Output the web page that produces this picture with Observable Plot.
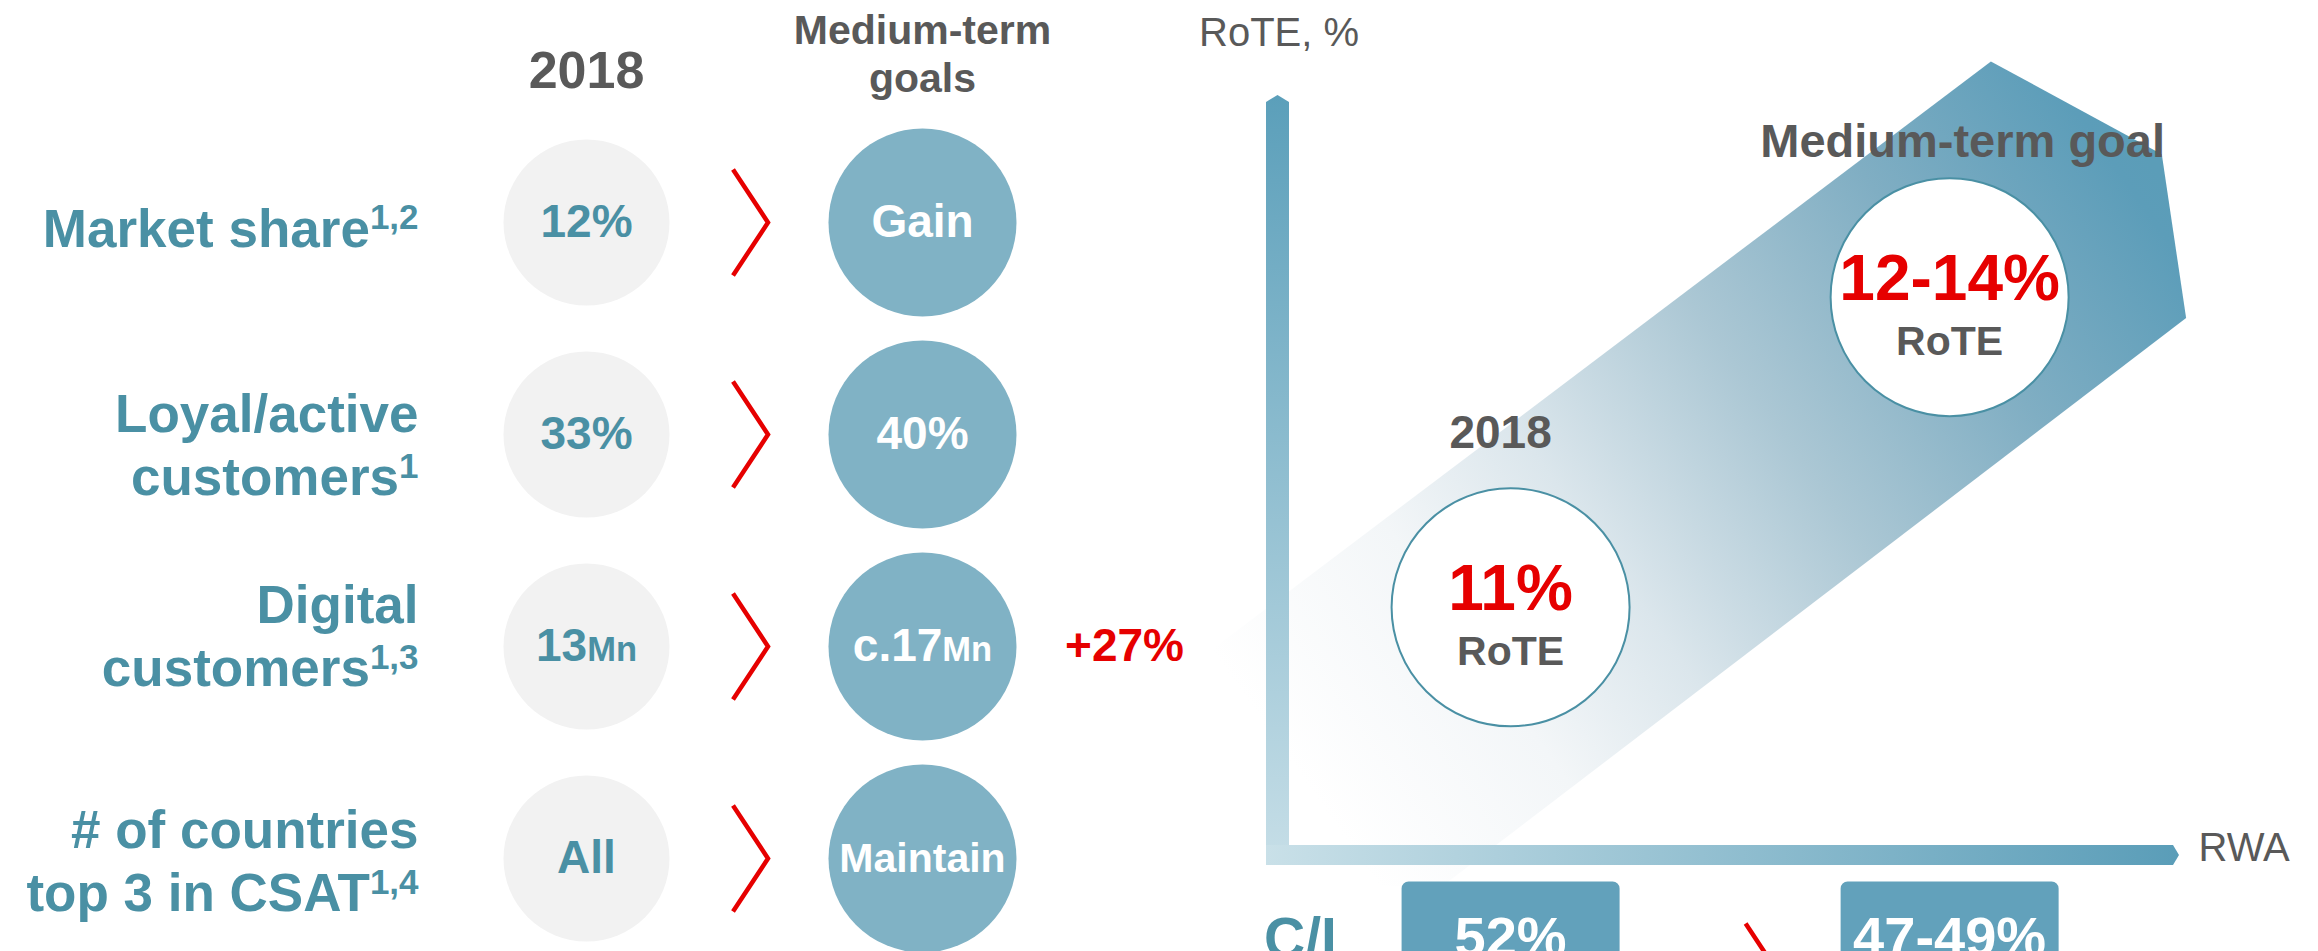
<!DOCTYPE html>
<html>
<head>
<meta charset="utf-8">
<script src="https://cdn.jsdelivr.net/npm/d3@7"></script>
<script src="https://cdn.jsdelivr.net/npm/@observablehq/plot@0.6"></script>
<style>
html, body { margin: 0; padding: 0; background: #fff; overflow: hidden; }
#wrap { display: flex; width: 2318px; height: 951px; overflow: hidden; background: #fff; }
#wrap svg { flex: none; display: block; }
</style>
</head>
<body>
<div id="wrap"></div>
<script>
// ---------------- data ----------------
// left table ("^" marks a superscript, "~" marks a smaller unit)
const rows = ["Market share^1,2", "Loyal/active\ncustomers^1", "Digital\ncustomers^1,3", "# of countries\ntop 3 in CSAT^1,4"];
const values2018 = ["12%", "33%", "13~Mn", "All"];
const goals = ["Gain", "40%", "c.17~Mn", "Maintain"];
const deltas = ["", "", "+27%", ""];
const columns = ["label", "2018", "arrow", "goal"];
const headerColumns = ["2018", "goal"];
const headers = ["2018", "Medium-term\ngoals"];

// right chart (conceptual RoTE vs RWA)
const stages = ["2018", "Medium-term goal"];
const rwa = [25.8, 74.5];          // relative position along RWA axis
const rote = [11, 13];             // RoTE % (goal: mid of 12-14%)
const roteLabels = ["11%", "12-14%"];
const metricLabel = "RoTE";
const ciLabel = "C/I";
const ciValues = ["52%", "47-49%"];
const xAxisLabel = "RWA";
const yAxisLabel = "RoTE, %";

// ---------------- styles ----------------
const FONT = "'Liberation Sans', Arial, Helvetica, sans-serif";
const TEAL = "#4a90a4";
const GREY = "#595959";
const RED = "#e60000";
const LIGHT = "#f2f2f2";
const BLUE = "#80b2c5";
const BOX = "#62a1bb";
const labelNudge = [4, 9, -12, 1]; // vertical fine-tuning of row labels (px)

const chevron = {
  draw(ctx, size) {
    const r = Math.sqrt(size / Math.PI);
    const w = r * 0.33;
    ctx.moveTo(-w, -r);
    ctx.lineTo(w, 0);
    ctx.lineTo(-w, r);
  }
};
const roundedBox = {
  draw(ctx, size) {
    const r = Math.sqrt(size / Math.PI);
    const hw = r, hh = r * 0.532, c = 7;
    ctx.moveTo(-hw + c, -hh);
    ctx.lineTo(hw - c, -hh);
    ctx.arcTo(hw, -hh, hw, -hh + c, c);
    ctx.lineTo(hw, hh - c);
    ctx.arcTo(hw, hh, hw - c, hh, c);
    ctx.lineTo(-hw + c, hh);
    ctx.arcTo(-hw, hh, -hw, hh - c, c);
    ctx.lineTo(-hw, -hh + c);
    ctx.arcTo(-hw, -hh, -hw + c, -hh, c);
    ctx.closePath();
  }
};

function richText(svg) {
  svg.querySelectorAll("text, tspan").forEach(el => {
    if (el.children.length) return;
    const s = el.textContent;
    const m = s.match(/^(.*?)([\^~])(.*)$/);
    if (!m) return;
    el.textContent = m[1];
    const t = document.createElementNS("http://www.w3.org/2000/svg", "tspan");
    if (m[2] === "^") {
      t.setAttribute("font-size", "0.66em");
      t.setAttribute("dy", "-0.5em");
    } else {
      t.setAttribute("font-size", "0.75em");
    }
    t.textContent = m[3];
    el.appendChild(t);
  });
}

// ---------------- left table ----------------
const rowData = rows.map((label, i) => ({label, v2018: values2018[i], goal: goals[i], delta: deltas[i]}));

const left = Plot.plot({
  width: 1200,
  height: 951,
  marginLeft: 417,
  marginRight: 277,
  marginTop: 221,
  marginBottom: 93,
  style: {fontFamily: FONT, background: "#fff"},
  x: {type: "point", domain: columns, padding: 0, axis: null},
  y: {type: "point", domain: rows, padding: 0, axis: null},
  marks: [
    Plot.text(headers.slice(0, 1), {
      x: (d, i) => headerColumns[i], frameAnchor: "top", text: d => d,
      lineAnchor: "bottom", dy: -134, fontSize: 52, fontWeight: "bold", fill: GREY
    }),
    Plot.text(headers.slice(1), {
      x: (d, i) => headerColumns[i + 1], frameAnchor: "top", text: d => d,
      lineAnchor: "bottom", dy: -130, lineHeight: 1.17, fontSize: 41, fontWeight: "bold", fill: GREY
    }),
    ...rowData.map((d, i) => Plot.text([d], {
      x: () => "label", y: "label", text: "label", textAnchor: "end", dy: labelNudge[i],
      lineHeight: 1.19, fontSize: 53, fontWeight: "bold", fill: TEAL
    })),
    Plot.dot(rowData, {x: () => "2018", y: "label", r: 83, fill: LIGHT, stroke: "none"}),
    Plot.text(rowData, {x: () => "2018", y: "label", text: "v2018", fontSize: 46, fontWeight: "bold", fill: TEAL}),
    Plot.dot(rowData, {x: () => "arrow", y: "label", dx: -4, symbol: chevron, r: 53, fill: "none", stroke: RED, strokeWidth: 4.5}),
    Plot.dot(rowData, {x: () => "goal", y: "label", r: 94, fill: BLUE, stroke: "none"}),
    Plot.text(rowData, {
      x: () => "goal", y: "label", text: "goal",
      fontSize: d => (d.goal.replace("~", "").length > 6 ? 41 : 46), fontWeight: "bold", fill: "#fff"
    }),
    Plot.text(rowData.filter(d => d.delta), {
      x: () => "goal", y: "label", text: "delta", dx: 202,
      fontSize: 46, fontWeight: "bold", fill: RED
    })
  ]
});
richText(left);

// ---------------- right chart ----------------
const stageData = stages.map((stage, i) => ({stage, rwa: rwa[i], rote: rote[i], roteLabel: roteLabels[i], ci: ciValues[i]}));
const X_DOMAIN = [0, 100];
const Y_DOMAIN = [9.4, 14.3];

function bandMark(index, scales) {
  const {x, y} = scales;
  const p0 = [x(rwa[0]), y(rote[0])];
  const p1 = [x(rwa[1]), y(rote[1])];
  const d = [p1[0] - p0[0], p1[1] - p0[1]];
  const L = Math.hypot(d[0], d[1]);
  const n = [d[1] / L, -d[0] / L];
  // band outline: [fraction along 2018->goal, offset across (px)]
  const shape = [[1.316, 168], [1.476, -6.4], [1.337, -154.3], [-0.403, -189], [-0.497, -153.3], [-0.527, 136.7]];
  const pts = shape.map(([a, b]) => [p0[0] + a * d[0] + b * n[0], p0[1] + a * d[1] + b * n[1]]);
  const g = d3.create("svg:g");
  const grad = g.append("defs").append("linearGradient")
    .attr("id", "bandGrad").attr("gradientUnits", "userSpaceOnUse")
    .attr("x1", p0[0] - 0.5 * d[0]).attr("y1", p0[1] - 0.5 * d[1])
    .attr("x2", p0[0] + 1.45 * d[0]).attr("y2", p0[1] + 1.45 * d[1]);
  [[0, "#ffffff"], [0.205, "#f3f6f8"], [0.36, "#dbe6ec"], [0.565, "#abc7d4"], [0.77, "#80aec3"], [0.97, "#5c9db9"], [1, "#5b9db8"]]
    .forEach(([o, c]) => grad.append("stop").attr("offset", o).attr("stop-color", c));
  g.append("path").attr("d", "M" + pts.map(p => p.join(",")).join("L") + "Z").attr("fill", "url(#bandGrad)");
  return g.node();
}

function axesMark(index, scales) {
  const {x, y} = scales;
  const x0 = x(X_DOMAIN[0]), x1 = x(X_DOMAIN[1]);
  const yb = y(Y_DOMAIN[0]), yt = y(Y_DOMAIN[1]);
  const hw = 11.5, hh = 10;
  const g = d3.create("svg:g");
  const defs = g.append("defs");
  const gy = defs.append("linearGradient").attr("id", "axisY").attr("gradientUnits", "userSpaceOnUse")
    .attr("x1", 0).attr("y1", yt).attr("x2", 0).attr("y2", yb + hh);
  gy.append("stop").attr("offset", 0).attr("stop-color", "#5b9fba");
  gy.append("stop").attr("offset", 1).attr("stop-color", "#c6dee7");
  const gx = defs.append("linearGradient").attr("id", "axisX").attr("gradientUnits", "userSpaceOnUse")
    .attr("x1", x0 - hw).attr("y1", 0).attr("x2", x1).attr("y2", 0);
  gx.append("stop").attr("offset", 0).attr("stop-color", "#c9e0e8");
  gx.append("stop").attr("offset", 1).attr("stop-color", "#5a9db8");
  g.append("path")
    .attr("d", `M${x0 - hw},${yb + hh}V${yt + 7}L${x0},${yt}L${x0 + hw},${yt + 7}V${yb + hh}Z`)
    .attr("fill", "url(#axisY)");
  g.append("path")
    .attr("d", `M${x0 - hw},${yb - hh}H${x1 - 6}L${x1},${yb}L${x1 - 6},${yb + hh}H${x0 - hw}Z`)
    .attr("fill", "url(#axisX)");
  return g.node();
}

const right = Plot.plot({
  width: 1118,
  height: 951,
  marginLeft: 77.5,
  marginRight: 139,
  marginTop: 95,
  marginBottom: 96,
  style: {fontFamily: FONT, background: "transparent", overflow: "visible"},
  x: {domain: X_DOMAIN, axis: null},
  y: {domain: Y_DOMAIN, axis: null},
  marks: [
    bandMark,
    axesMark,
    Plot.text([yAxisLabel], {frameAnchor: "top-left", lineAnchor: "middle", text: d => d, textAnchor: "start", dx: -79, dy: -62, fontSize: 40, fill: GREY}),
    Plot.text([xAxisLabel], {frameAnchor: "bottom-right", lineAnchor: "middle", text: d => d, textAnchor: "start", dx: 19, dy: -7, fontSize: 40, fill: GREY}),
    Plot.dot(stageData, {x: "rwa", y: "rote", r: 119, fill: "#fff", stroke: TEAL, strokeWidth: 2}),
    Plot.text(stageData, {x: "rwa", y: "rote", text: "roteLabel", dy: -18, fontSize: 64, fontWeight: "bold", fill: RED}),
    Plot.text(stageData, {x: "rwa", y: "rote", text: () => metricLabel, dy: 45, fontSize: 41, fontWeight: "bold", fill: GREY}),
    Plot.text(stageData.slice(0, 1), {x: "rwa", y: "rote", text: "stage", dx: -10, dy: -174, fontSize: 46, fontWeight: "bold", fill: GREY}),
    Plot.text(stageData.slice(1), {x: "rwa", y: "rote", text: "stage", dx: 13, dy: -155, fontSize: 47, fontWeight: "bold", fill: GREY}),
    Plot.text([ciLabel], {frameAnchor: "bottom-left", lineAnchor: "middle", text: d => d, textAnchor: "start", dx: -14, dy: 84, fontSize: 57, fontWeight: "bold", fill: TEAL}),
    Plot.dot(stageData, {x: "rwa", frameAnchor: "bottom", dy: 84, symbol: roundedBox, r: 109, fill: BOX, stroke: "none"}),
    Plot.text(stageData, {x: "rwa", frameAnchor: "bottom", lineAnchor: "middle", dy: 83, text: "ci", fontSize: 56, fontWeight: "bold", fill: "#fff"}),
    Plot.dot([d3.mean(rwa)], {x: d => d, frameAnchor: "bottom", dx: 33, dy: 121, symbol: chevron, r: 53, fill: "none", stroke: RED, strokeWidth: 4.5})
  ]
});

document.getElementById("wrap").append(left, right);
</script>
</body>
</html>
